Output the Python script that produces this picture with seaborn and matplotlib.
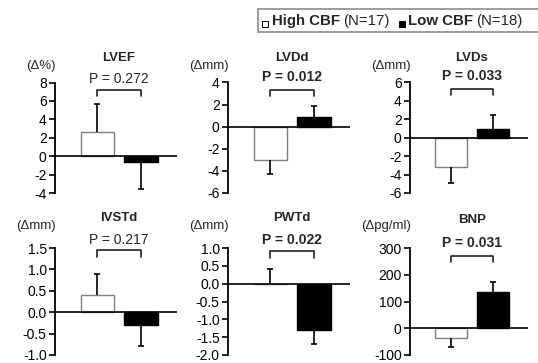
import matplotlib
matplotlib.use("Agg")
import matplotlib.pyplot as plt
import matplotlib.transforms as mtransforms
from matplotlib.patches import Rectangle
import seaborn as sns
import pandas as pd
import numpy as np

# ---- data ----
metrics = ['LVEF', 'LVDd', 'LVDs', 'IVSTd', 'PWTd', 'BNP']
units = ['(Δ%)', '(Δmm)', '(Δmm)', '(Δmm)', '(Δmm)', '(Δpg/ml)']
groups = ['High CBF', 'Low CBF']
high_mean = [2.6, -3.0, -3.2, 0.4, 0.0, -35]
high_err = [3.1, 1.3, 1.7, 0.5, 0.4, 35]
low_mean = [-0.6, 0.9, 1.0, -0.3, -1.3, 135]
low_err = [3.0, 1.0, 1.5, 0.5, 0.4, 37]
p_labels = ['P = 0.272', 'P = 0.012', 'P = 0.033', 'P = 0.217', 'P = 0.022', 'P = 0.031']
p_bold = [False, True, True, False, True, True]
y_ticks = [[-4, -2, 0, 2, 4, 6, 8],
           [-6, -4, -2, 0, 2, 4],
           [-6, -4, -2, 0, 2, 4, 6],
           [-1.0, -0.5, 0.0, 0.5, 1.0, 1.5],
           [-2.0, -1.5, -1.0, -0.5, 0.0, 0.5, 1.0],
           [-100, 0, 100, 200, 300]]
tick_fmt = ['{:.0f}', '{:.0f}', '{:.0f}', '{:.1f}', '{:.1f}', '{:.0f}']
legend_labels = [('High CBF', '(N=17)'), ('Low CBF', '(N=18)')]

rows = []
for i, m in enumerate(metrics):
    rows.append({'metric': m, 'group': groups[0], 'value': high_mean[i], 'err': high_err[i]})
    rows.append({'metric': m, 'group': groups[1], 'value': low_mean[i], 'err': low_err[i]})
df = pd.DataFrame(rows)

# ---- style ----
sns.set_style("white")
plt.rcParams['font.family'] = ['Liberation Sans', 'DejaVu Sans']
plt.rcParams['axes.unicode_minus'] = False
FS_TICK = 10
FS_TITLE = 9.5
FS_P = 10
FS_UNIT = 9.5
FS_LEG = 10.8

W, H = 538, 363
fig = plt.figure(figsize=(W / 100, H / 100), dpi=100)

def fy(py):
    return 1 - py / H

col_lr = [(55, 177), (228, 350), (410, 528)]
row_tb = [(82.5, 193), (248, 355)]
title_y = [58, 58, 58, 218, 218, 220]
p_y = [79, 77, 76, 240, 240, 243]
br_top = [90, 90, 89, 250, 251, 256]
br_bot = [96, 96, 95, 257, 258, 262]
unit_y = [66, 66, 66, 226, 226, 226]

palette = {groups[0]: 'white', groups[1]: 'black'}

for i, m in enumerate(metrics):
    r, c = divmod(i, 3)
    l, rgt = col_lr[c]
    t, b = row_tb[r]
    ax = fig.add_axes([l / W, 1 - b / H, (rgt - l) / W, (b - t) / H])
    sub = df[df.metric == m]
    sns.barplot(data=sub, x='group', y='value', hue='group', order=groups,
                hue_order=groups, palette=palette, width=0.78, errorbar=None,
                legend=False, linewidth=1.0, edgecolor='black', ax=ax, zorder=2)
    for patch, g in zip(ax.patches, groups):
        patch.set_edgecolor('#7f7f7f' if g == groups[0] else 'black')
    # one-sided error bars
    xs = np.arange(len(groups))
    vals = sub['value'].to_numpy()
    errs = sub['err'].to_numpy()
    ends = np.where(vals >= 0, vals + errs, vals - errs)
    ax.vlines(xs, vals, ends, color='black', lw=1.2, zorder=3)
    ax.plot(xs, ends, ls='none', marker='_', ms=4.5, mew=1.2, color='black', zorder=3)
    ax.axhline(0, color='black', lw=1.2, zorder=4)

    yt = y_ticks[i]
    ax.set_ylim(yt[0], yt[-1])
    ax.set_yticks(yt)
    ax.set_yticklabels([tick_fmt[i].format(v) for v in yt], fontsize=FS_TICK)
    ax.set_xlim(-0.98, 1.84)
    ax.set_xticks([])
    ax.set_xlabel('')
    ax.set_ylabel('')
    sns.despine(ax=ax, bottom=True)
    ax.spines['left'].set_linewidth(1.3)
    ax.spines['left'].set_color('black')
    ax.tick_params(axis='y', direction='out', length=4, width=1.2, pad=2,
                   left=True, colors='black')
    ax.set_facecolor('none')

    tr = mtransforms.blended_transform_factory(ax.transData, fig.transFigure)
    fig.text(0.5, fy(title_y[i]), m, transform=tr, ha='center', va='center',
             fontsize=FS_TITLE, fontweight='bold')
    fig.text(0.5, fy(p_y[i]), p_labels[i], transform=tr, ha='center', va='center',
             fontsize=FS_P, fontweight='bold' if p_bold[i] else 'normal')
    ax.plot([0, 0, 1, 1], [fy(br_bot[i]), fy(br_top[i]), fy(br_top[i]), fy(br_bot[i])],
            transform=tr, clip_on=False, color='#222222', lw=1.2)
    fig.text((l + 1) / W, fy(unit_y[i]), units[i], ha='right', va='center', fontsize=FS_UNIT)

# ---- legend box ----
fig.add_artist(Rectangle((258 / W, fy(32)), (W + 5 - 258) / W, 23 / H,
                         transform=fig.transFigure, facecolor='white',
                         edgecolor='#8c8c8c', lw=1.2, clip_on=False))
fig.canvas.draw()
renderer = fig.canvas.get_renderer()
x = 262
ty = fy(21)
for k, (name, n) in enumerate(legend_labels):
    fig.add_artist(Rectangle((x / W, fy(27)), 6 / W, 6 / H, transform=fig.transFigure,
                             facecolor=palette[groups[k]], edgecolor='black', lw=0.7))
    x += 10
    t1 = fig.text(x / W, ty, name, ha='left', va='center', fontsize=FS_LEG, fontweight='bold')
    x += t1.get_window_extent(renderer).width + 3
    t2 = fig.text(x / W, ty, n, ha='left', va='center', fontsize=FS_LEG)
    x += t2.get_window_extent(renderer).width + 9

fig.savefig('out.png', dpi=100, facecolor='white')
